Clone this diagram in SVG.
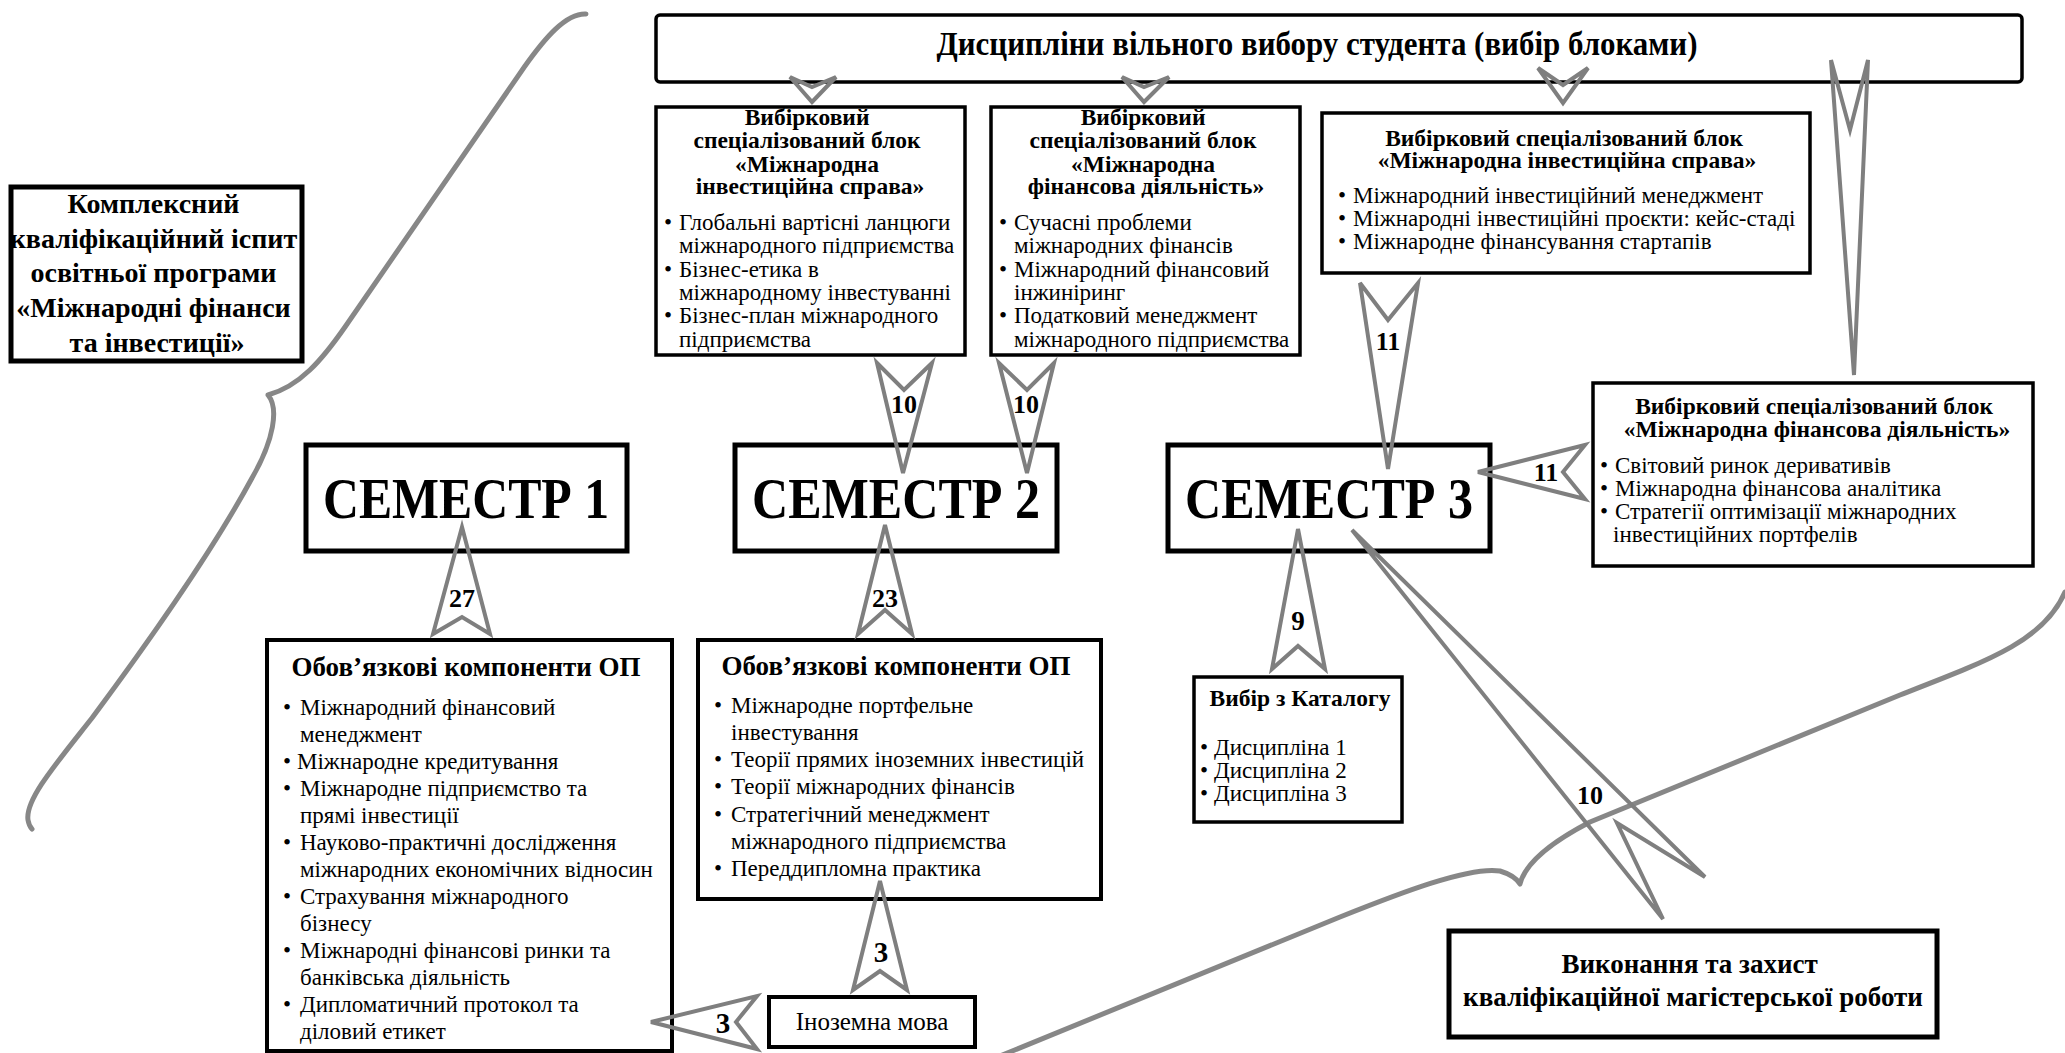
<svg xmlns="http://www.w3.org/2000/svg" width="2065" height="1053" viewBox="0 0 2065 1053" font-family="'Liberation Serif', 'Times New Roman', serif">
<style>
  .bx { fill: #fff; stroke: #000; stroke-width: 3.5; }
  .bx5 { fill: #fff; stroke: #000; stroke-width: 5; }
  .ar { fill: none; stroke: #7f7f7f; stroke-width: 4; stroke-linejoin: miter; }
  .cv { fill: none; stroke: #7a7a7a; stroke-width: 5; stroke-linecap: round; stroke-linejoin: round; opacity: 0.9; }
  text { font-family: "Liberation Serif", "Times New Roman", serif; fill: #000; }
  .tb { font-weight: bold; font-size: 23.5px; text-anchor: middle; }
  .li { font-size: 23px; }
  .h27 { font-weight: bold; font-size: 27px; text-anchor: middle; }
  .sem { font-weight: bold; font-size: 57px; text-anchor: middle; }
  .lbl { font-weight: bold; font-size: 26px; text-anchor: middle; }
</style>
<rect width="2065" height="1053" fill="#fff"/>

<g id="curves">
  <path class="cv" d="M 586,14 C 566,13 545,38 525,66 L 345,327 C 322,360 300,386 268,395 C 279,408 274,440 252,478 C 212,552 150,640 92,718 C 55,765 25,800 28,820 C 29,826 31,828 32,829"/>
  <path class="cv" d="M 1000,1056 L 1340,917 C 1400,893 1470,866 1500,871 C 1510,874 1517,879 1520,884 C 1524,868 1540,848 1590,822 L 1900,695 C 1990,660 2045,640 2065,592"/>
</g>

<g id="n-exam">
  <rect class="bx5" x="11" y="187" width="291" height="174"/>
  <text class="h27" style="font-size:28px">
    <tspan x="157" y="213">Комплексний</tspan>
    <tspan x="157" y="248">кваліфікаційний іспит</tspan>
    <tspan x="157" y="282">освітньої програми</tspan>
    <tspan x="157" y="317">«Міжнародні фінанси</tspan>
    <tspan x="157" y="352">та інвестиції»</tspan>
  </text>
</g>

<g id="n-free">
  <rect class="bx" x="656" y="15" width="1366" height="67" rx="4"/>
  <text x="1317" y="55" style="font-weight:bold;font-size:34px;text-anchor:middle" textLength="761" lengthAdjust="spacingAndGlyphs">Дисципліни вільного вибору студента (вибір блоками)</text>
</g>

<g id="n-blockC">
  <rect class="bx" x="656" y="107" width="309" height="248"/>
  <text class="tb">
    <tspan x="810" y="125">Вибірковий</tspan>
    <tspan x="810" y="148">спеціалізований блок</tspan>
    <tspan x="810" y="172">«Міжнародна</tspan>
    <tspan x="810" y="194">інвестиційна справа»</tspan>
  </text>
  <text class="li">
    <tspan x="664" y="230">•</tspan><tspan x="679" y="230">Глобальні вартісні ланцюги</tspan>
    <tspan x="679" y="253">міжнародного підприємства</tspan>
    <tspan x="664" y="277">•</tspan><tspan x="679" y="277">Бізнес-етика в</tspan>
    <tspan x="679" y="300">міжнародному інвестуванні</tspan>
    <tspan x="664" y="323">•</tspan><tspan x="679" y="323">Бізнес-план міжнародного</tspan>
    <tspan x="679" y="347">підприємства</tspan>
  </text>
</g>

<g id="n-blockD">
  <rect class="bx" x="991" y="107" width="309" height="248"/>
  <text class="tb">
    <tspan x="1146" y="125">Вибірковий</tspan>
    <tspan x="1146" y="148">спеціалізований блок</tspan>
    <tspan x="1146" y="172">«Міжнародна</tspan>
    <tspan x="1146" y="194">фінансова діяльність»</tspan>
  </text>
  <text class="li">
    <tspan x="999" y="230">•</tspan><tspan x="1014" y="230">Сучасні проблеми</tspan>
    <tspan x="1014" y="253">міжнародних фінансів</tspan>
    <tspan x="999" y="277">•</tspan><tspan x="1014" y="277">Міжнародний фінансовий</tspan>
    <tspan x="1014" y="300">інжиніринг</tspan>
    <tspan x="999" y="323">•</tspan><tspan x="1014" y="323">Податковий менеджмент</tspan>
    <tspan x="1014" y="347">міжнародного підприємства</tspan>
  </text>
</g>

<g id="n-blockE">
  <rect class="bx" x="1322" y="113" width="488" height="160"/>
  <text class="tb">
    <tspan x="1567" y="146">Вибірковий спеціалізований блок</tspan>
    <tspan x="1567" y="168">«Міжнародна інвестиційна справа»</tspan>
  </text>
  <text class="li">
    <tspan x="1338" y="203">•</tspan><tspan x="1353" y="203">Міжнародний інвестиційний менеджмент</tspan>
    <tspan x="1338" y="226">•</tspan><tspan x="1353" y="226">Міжнародні інвестиційні проєкти: кейс-стаді</tspan>
    <tspan x="1338" y="249">•</tspan><tspan x="1353" y="249">Міжнародне фінансування стартапів</tspan>
  </text>
</g>

<g id="n-blockF">
  <rect class="bx" x="1593" y="383" width="440" height="183"/>
  <text class="tb">
    <tspan x="1817" y="414">Вибірковий спеціалізований блок</tspan>
    <tspan x="1817" y="437">«Міжнародна фінансова діяльність»</tspan>
  </text>
  <text class="li">
    <tspan x="1600" y="473">•</tspan><tspan x="1615" y="473">Світовий ринок деривативів</tspan>
    <tspan x="1600" y="496">•</tspan><tspan x="1615" y="496">Міжнародна фінансова аналітика</tspan>
    <tspan x="1600" y="519">•</tspan><tspan x="1615" y="519">Стратегії оптимізації міжнародних</tspan>
    <tspan x="1613" y="542">інвестиційних портфелів</tspan>
  </text>
</g>

<g id="n-sem1">
  <rect class="bx5" x="306" y="445" width="321" height="106"/>
  <text class="sem" x="466" y="518" textLength="286" lengthAdjust="spacingAndGlyphs">СЕМЕСТР 1</text>
</g>
<g id="n-sem2">
  <rect class="bx5" x="735" y="445" width="322" height="106"/>
  <text class="sem" x="896" y="518" textLength="288" lengthAdjust="spacingAndGlyphs">СЕМЕСТР 2</text>
</g>
<g id="n-sem3">
  <rect class="bx5" x="1168" y="445" width="322" height="106"/>
  <text class="sem" x="1329" y="518" textLength="288" lengthAdjust="spacingAndGlyphs">СЕМЕСТР 3</text>
</g>

<g id="n-compJ">
  <rect class="bx" x="267" y="640" width="405" height="411" style="stroke-width:4"/>
  <text class="h27" x="466" y="676">Обов’язкові компоненти ОП</text>
  <text class="li">
    <tspan x="283" y="715">•</tspan><tspan x="300" y="715">Міжнародний фінансовий</tspan>
    <tspan x="300" y="742">менеджмент</tspan>
    <tspan x="283" y="769">•</tspan><tspan x="297" y="769">Міжнародне кредитування</tspan>
    <tspan x="283" y="796">•</tspan><tspan x="300" y="796">Міжнародне підприємство та</tspan>
    <tspan x="300" y="823">прямі інвестиції</tspan>
    <tspan x="283" y="850">•</tspan><tspan x="300" y="850">Науково-практичні дослідження</tspan>
    <tspan x="300" y="877">міжнародних економічних відносин</tspan>
    <tspan x="283" y="904">•</tspan><tspan x="300" y="904">Страхування міжнародного</tspan>
    <tspan x="300" y="931">бізнесу</tspan>
    <tspan x="283" y="958">•</tspan><tspan x="300" y="958">Міжнародні фінансові ринки та</tspan>
    <tspan x="300" y="985">банківська діяльність</tspan>
    <tspan x="283" y="1012">•</tspan><tspan x="300" y="1012">Дипломатичний протокол та</tspan>
    <tspan x="300" y="1039">діловий етикет</tspan>
  </text>
</g>

<g id="n-compK">
  <rect class="bx" x="698" y="640" width="403" height="259" style="stroke-width:4"/>
  <text class="h27" x="896" y="675">Обов’язкові компоненти ОП</text>
  <text class="li">
    <tspan x="714" y="713">•</tspan><tspan x="731" y="713">Міжнародне портфельне</tspan>
    <tspan x="731" y="740">інвестування</tspan>
    <tspan x="714" y="767">•</tspan><tspan x="731" y="767">Теорії прямих іноземних інвестицій</tspan>
    <tspan x="714" y="794">•</tspan><tspan x="731" y="794">Теорії міжнародних фінансів</tspan>
    <tspan x="714" y="822">•</tspan><tspan x="731" y="822">Стратегічний менеджмент</tspan>
    <tspan x="731" y="849">міжнародного підприємства</tspan>
    <tspan x="714" y="876">•</tspan><tspan x="731" y="876">Переддипломна практика</tspan>
  </text>
</g>

<g id="n-catalog">
  <rect class="bx" x="1194" y="677" width="208" height="145"/>
  <text class="tb" x="1300" y="706">Вибір з Каталогу</text>
  <text class="li">
    <tspan x="1200" y="755">•</tspan><tspan x="1214" y="755">Дисципліна 1</tspan>
    <tspan x="1200" y="778">•</tspan><tspan x="1214" y="778">Дисципліна 2</tspan>
    <tspan x="1200" y="801">•</tspan><tspan x="1214" y="801">Дисципліна 3</tspan>
  </text>
</g>

<g id="n-lang">
  <rect class="bx" x="769" y="997" width="206" height="50" style="stroke-width:4"/>
  <text x="872" y="1030" style="font-size:25px;text-anchor:middle">Іноземна мова</text>
</g>

<g id="n-thesis">
  <rect class="bx5" x="1449" y="931" width="488" height="106"/>
  <text class="h27">
    <tspan x="1693" y="973">Виконання та захист</tspan>
    <tspan x="1693" y="1006">кваліфікаційної магістерської роботи</tspan>
  </text>
</g>

<g id="connectors">
  <polygon class="ar" points="812,102 836,77 812,87 790,77"/>
  <polygon class="ar" points="1144,102 1169,77 1144,87 1122,77"/>
  <polygon class="ar" points="1563,103 1588,68 1563,85 1538,68"/>
  <polygon class="ar" points="1854,375 1868,60 1850,130 1831,60"/>
  <polygon class="ar" points="903,473 932,363 904,390 877,363"/>
  <polygon class="ar" points="1027,473 1054,363 1027,390 999,363"/>
  <polygon class="ar" points="1388,469 1418,283 1388,320 1360,283"/>
  <polygon class="ar" points="1478,472 1585,445 1563,472 1585,499"/>
  <polygon class="ar" points="462,527 490,634 462,617 433,634"/>
  <polygon class="ar" points="885,525 912,634 885,610 858,634"/>
  <polygon class="ar" points="1298,529 1325,669 1298,646 1272,669"/>
  <polygon class="ar" points="880,881 907,990 880,971 853,990"/>
  <polygon class="ar" points="651,1022 757,996 736,1022 757,1049"/>
  <polygon class="ar" points="1352,530 1705,877 1617,823 1663,919"/>
  <text class="lbl" x="904" y="413">10</text>
  <text class="lbl" x="1026" y="413">10</text>
  <text class="lbl" x="1388" y="350">11</text>
  <text class="lbl" x="1546" y="481">11</text>
  <text class="lbl" x="462" y="607">27</text>
  <text class="lbl" x="885" y="607">23</text>
  <text class="lbl" x="1298" y="630" style="font-size:27px">9</text>
  <text class="lbl" x="881" y="962" style="font-size:29px">3</text>
  <text class="lbl" x="723" y="1033" style="font-size:29px">3</text>
  <text class="lbl" x="1590" y="804">10</text>
</g>
</svg>
